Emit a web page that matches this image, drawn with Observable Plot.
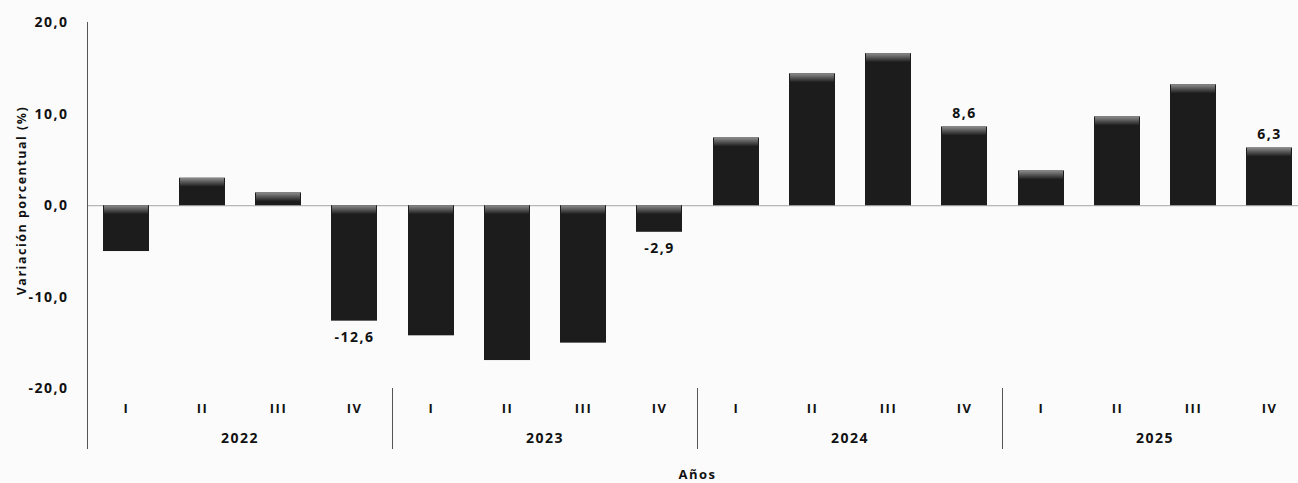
<!DOCTYPE html>
<html>
<head>
<meta charset="utf-8">
<script src="https://cdn.jsdelivr.net/npm/d3@7"></script>
<script src="https://cdn.jsdelivr.net/npm/@observablehq/plot@0.6"></script>
<style>
  html, body { margin: 0; padding: 0; background: #fbfbfb; overflow: hidden; }
</style>
</head>
<body>
<div id="chart"></div>
<script>
// ---- data ----
const years = ["2022", "2023", "2024", "2025"];
const quarters = ["I", "II", "III", "IV"];
const values2022 = [-5.0, 3.0, 1.4, -12.6];
const values2023 = [-14.2, -16.9, -15.0, -2.9];
const values2024 = [7.4, 14.4, 16.6, 8.6];
const values2025 = [3.8, 9.7, 13.2, 6.3];
const labeledQuarter = "IV";
const yTicks = [-20, -10, 0, 10, 20];
const yDomain = [-26.5, 20];
const yTitle = "Variación porcentual (%)";
const xTitle = "Años";

const series = [values2022, values2023, values2024, values2025];
const data = years.flatMap((yr, i) => quarters.map((q, j) => ({year: yr, quarter: q, value: series[i][j]})));
const fmt = v => v.toFixed(1).replace(".", ",");
const font = "'Open Sans', sans-serif";
const barColor = "#1c1c1c";

const chart = Plot.plot({
  width: 1298,
  height: 483,
  marginLeft: 86,
  marginRight: -9,
  marginTop: 22,
  marginBottom: 35,
  style: {fontFamily: font, fontWeight: "bold", fontSize: "14px", letterSpacing: "1.5px", color: "#111", background: "transparent"},
  fx: {domain: years, padding: 0},
  x: {domain: quarters, paddingInner: 0.4, paddingOuter: 0.2},
  y: {domain: yDomain},
  marks: [
    Plot.ruleY([0], {stroke: "#a5a5a5", strokeWidth: 1}),
    Plot.frame({anchor: "left", insetTop: 366, stroke: "#555"}),
    Plot.frame({anchor: "left", facet: "super", stroke: "#555"}),
    Plot.barY(data, {fx: "year", x: "quarter", y: "value", fill: barColor}),
    Plot.barY(data, {
      fx: "year", x: "quarter",
      y1: d => Math.max(0, d.value), y2: d => Math.max(0, d.value),
      insetBottom: -9, insetLeft: 1, insetRight: 1, fill: "url(#cap)"
    }),
    Plot.text(data.filter(d => d.quarter === labeledQuarter && d.value < 0), {
      fx: "year", x: "quarter", y: "value", text: d => fmt(d.value),
      lineAnchor: "top", dy: 11, fontSize: 14, fill: "#111"
    }),
    Plot.text(data.filter(d => d.quarter === labeledQuarter && d.value >= 0), {
      fx: "year", x: "quarter", y: "value", text: d => fmt(d.value),
      lineAnchor: "bottom", dy: -9, fontSize: 14, fill: "#111"
    }),
    Plot.axisY({ticks: yTicks, tickFormat: fmt, tickSize: 0, tickPadding: 19, label: null, fontSize: 14}),
    Plot.axisX({anchor: "bottom", tickSize: 0, tickPadding: 0, dy: -45, label: null, fontSize: 13}),
    Plot.axisFx({anchor: "bottom", tickSize: 0, tickPadding: 0, dy: -15, label: null, fontSize: 14}),
    Plot.text([yTitle], {
      frameAnchor: "left", rotate: -90, textAnchor: "middle", lineAnchor: "middle",
      dx: -66, dy: -35, fontSize: 12.5, facet: "super", fill: "#111"
    }),
    Plot.text([xTitle], {
      frameAnchor: "bottom", textAnchor: "middle", lineAnchor: "middle",
      dy: 26, fontSize: 13, facet: "super", fill: "#111"
    })
  ]
});

const svg = d3.select(chart);
const defs = svg.insert("defs", ":first-child");
const grad = defs.append("linearGradient").attr("id", "cap").attr("x1", 0).attr("y1", 0).attr("x2", 0).attr("y2", 1);
grad.append("stop").attr("offset", "0%").attr("stop-color", "#8e8e8e");
grad.append("stop").attr("offset", "100%").attr("stop-color", barColor);

document.getElementById("chart").appendChild(chart);
</script>
</body>
</html>
